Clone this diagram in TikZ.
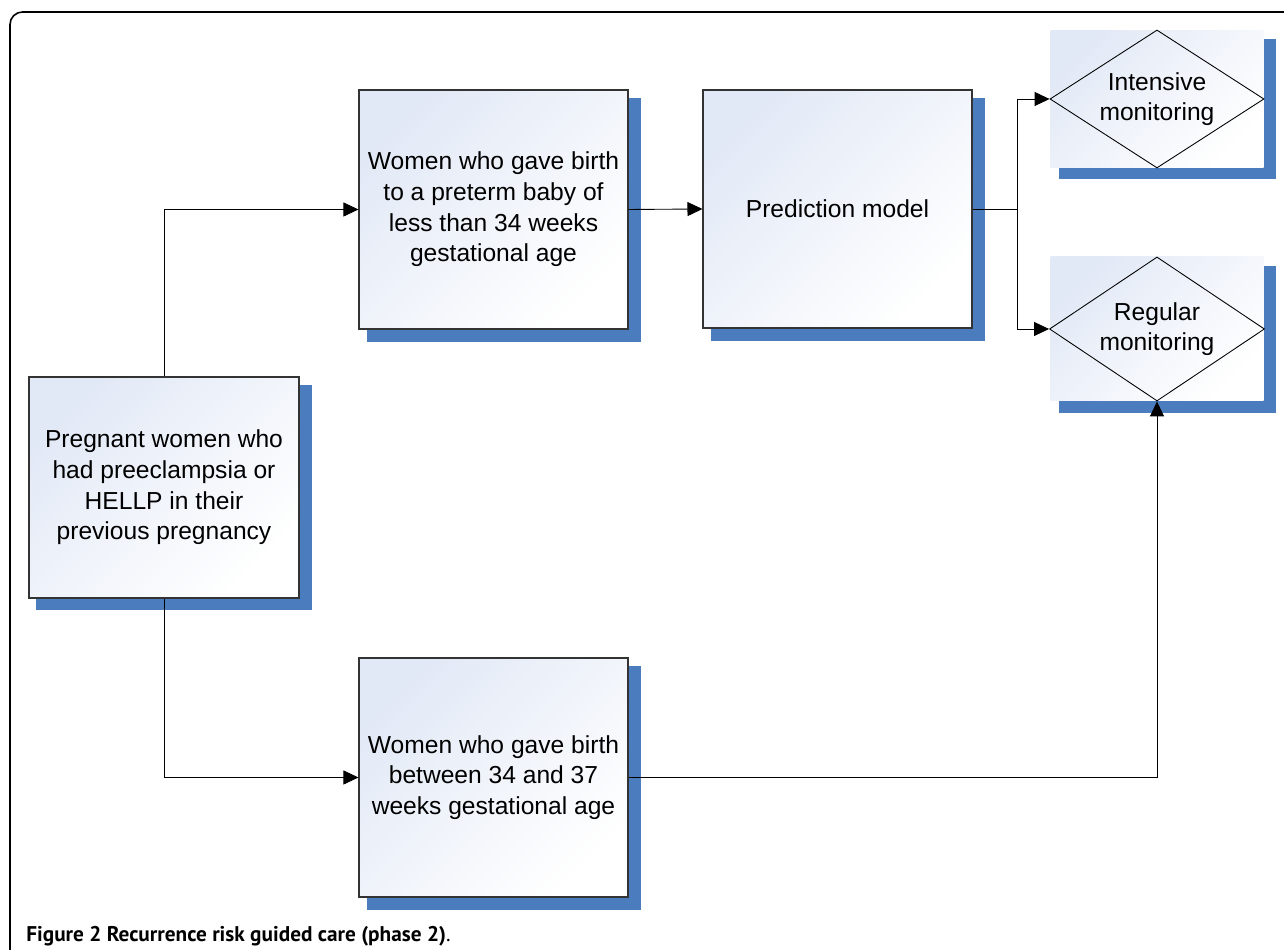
\documentclass[tikz,border=0pt]{standalone}
\usepackage{fontspec}
\setmainfont{Liberation Sans}
\newfontfamily\capfont{PT Sans}
\usetikzlibrary{shapes.geometric, arrows.meta, shadows}
\definecolor{shadowblue}{RGB}{74,124,190}
\definecolor{boxtint}{RGB}{226,233,246}

\begin{document}
\begin{tikzpicture}[font=\fontsize{14}{17.4}\selectfont]
\useasboundingbox (0,0) rectangle (25.68,19);
\tikzstyle{card}=[draw=black!80, line width=0.6pt, top color=boxtint, bottom color=white, shading angle=45,
  drop shadow={shadow xshift=0.2cm, shadow yshift=-0.2cm, shadow scale=1.02, fill=shadowblue, opacity=1},
  minimum width=5.38cm, minimum height=4.78cm, align=center, inner sep=0pt]
\tikzstyle{pad}=[card, draw=none, minimum width=4.26cm, minimum height=2.74cm]
\tikzstyle{choice}=[diamond, draw=black, line width=0.5pt, aspect=1.55, inner sep=0pt, minimum width=4.28cm, minimum height=2.76cm, align=center]
\tikzstyle{link}=[-{Triangle[length=0.3cm, width=0.28cm]}, line width=0.5pt]
\draw[line width=0.9pt, rounded corners=0.25cm] (0.2,0) -- (0.2,18.76) -- (25.68,18.76);
\node[card, minimum width=5.4cm, minimum height=4.42cm](preg) at (3.28,9.25){Pregnant women who\\had preeclampsia or\\HELLP in their\\previous pregnancy};
\node[card](preterm) at (9.87,14.81){Women who gave birth\\to a preterm baby of\\less than 34 weeks\\gestational age};
\node[card, minimum height=4.76cm](model) at (16.75,14.82){Prediction model};
\node[card](term) at (9.87,3.45){Women who gave birth\\between 34 and 37\\weeks gestational age};
\node[pad](intpad) at (23.14,17.02){};
\node[choice](intensive) at (23.14,17.02){Intensive\\monitoring};
\node[pad, minimum height=2.88cm](regpad) at (23.14,12.42){};
\node[choice, minimum width=4.3cm, minimum height=2.88cm](regular) at (23.14,12.42){Regular\\monitoring};
\coordinate (fork) at (20.34,14.82);
\draw[link] (preterm.east) -- (model.west);
\draw (model.east) -- (fork);
\foreach \i/\j in {preg.north/preterm.west, preg.south/term.west, fork/intensive.west, fork/regular.west}{\draw[link] (\i) |- (\j);}
\draw[link] (term.east) -| (regular.south);
\node[anchor=base west, inner sep=0pt, font=\capfont\fontsize{12.1}{14}\selectfont](caption) at (0.52,0.16){\textbf{Figure 2 Recurrence risk guided care (phase 2)}.};
\end{tikzpicture}
\end{document}
